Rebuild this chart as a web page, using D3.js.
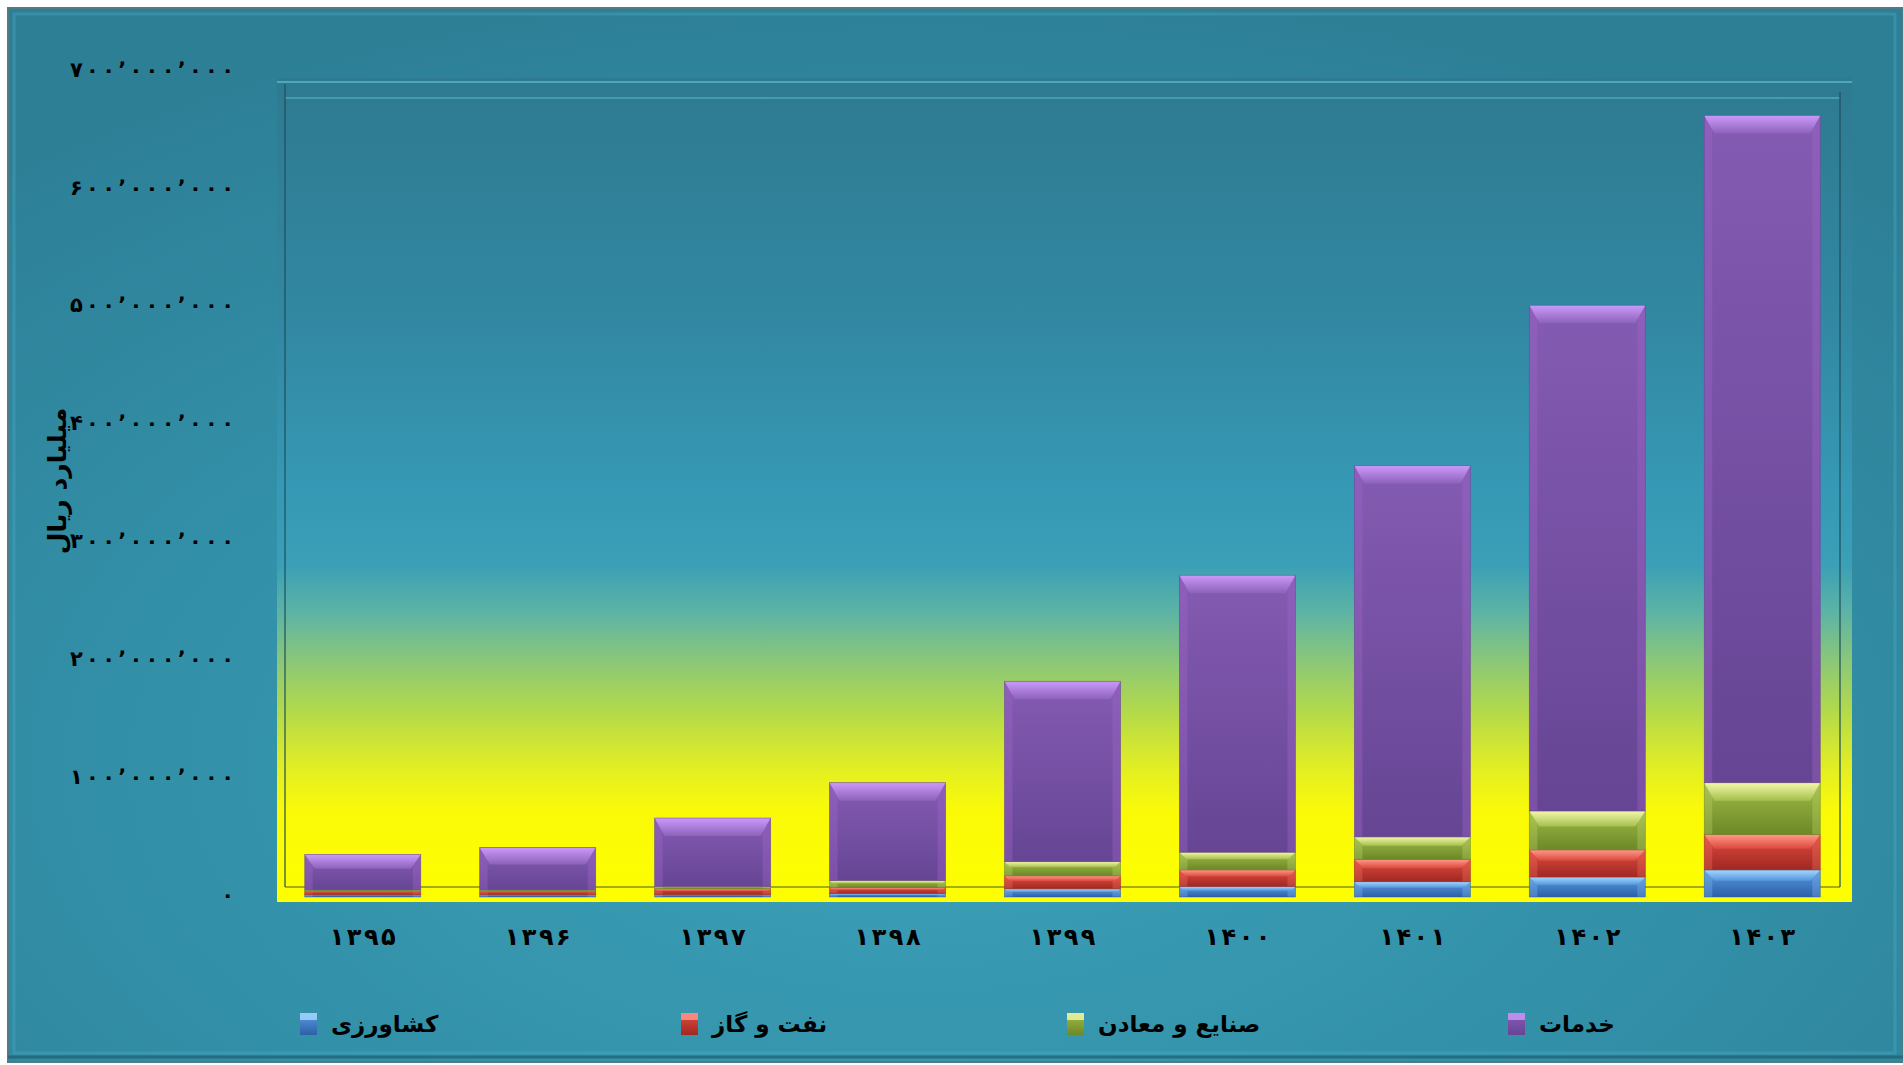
<!DOCTYPE html>
<html>
<head>
<meta charset="utf-8">
<script src="https://cdn.jsdelivr.net/npm/d3@7"></script>
<style>
  html, body { margin: 0; padding: 0; background: #fff; overflow: hidden; }
  svg { display: block; }
  text { font-family: "DejaVu Sans", sans-serif; font-weight: bold; fill: #000; }
</style>
</head>
<body>
<svg id="chart"></svg>
<script>
// years (solar hijri) and sector values, billion rial
const years = ['۱۳۹۵', '۱۳۹۶', '۱۳۹۷', '۱۳۹۸', '۱۳۹۹', '۱۴۰۰', '۱۴۰۱', '۱۴۰۲', '۱۴۰۳'];
const agriculture = [2000000, 2000000, 2000000, 3000000, 7000000, 9000000, 13000000, 17000000, 23000000];
const oilGas = [3000000, 3000000, 5000000, 5000000, 11000000, 14000000, 19000000, 23000000, 30000000];
const industryMining = [1000000, 1000000, 2000000, 6000000, 12000000, 15000000, 19000000, 33000000, 44000000];
const services = [30000000, 36000000, 58000000, 83000000, 153000000, 235000000, 315000000, 429000000, 566000000];
const yTicks = [0, 100000000, 200000000, 300000000, 400000000, 500000000, 600000000, 700000000];
const seriesNames = ['کشاورزی', 'نفت و گاز', 'صنایع و معادن', 'خدمات'];
const yTitle = 'میلیارد ریال';

const W = 1903, H = 1065;
const keys = ['agriculture', 'oil', 'industry', 'services'];
const palette = {
  agriculture: { top: '#5A9CE2', bottom: '#2C5FA6', capTop: '#A4D8FF', capBottom: '#5496DE', side: '#7DB6F0' },
  oil:         { top: '#E04C40', bottom: '#A02822', capTop: '#FF9A8A', capBottom: '#DC483C', side: '#F07060' },
  industry:    { top: '#A0BC46', bottom: '#6C8828', capTop: '#F4F8A8', capBottom: '#A4C04C', side: '#BCD468' },
  services:    { top: '#845BB2', bottom: '#664594', capTop: '#CC9AFA', capBottom: '#8C62BA', side: '#A468CC' }
};

const rows = years.map((yr, i) => ({
  year: yr,
  agriculture: agriculture[i],
  oil: oilGas[i],
  industry: industryMining[i],
  services: services[i]
}));

const persian = s => s.replace(/\d/g, d => '۰۱۲۳۴۵۶۷۸۹'[+d]);
const fmt = v => persian(d3.format(',')(v)).replace(/,/g, '٬');

const svg = d3.select('#chart').attr('width', W).attr('height', H);
const defs = svg.append('defs');

// backgrounds
const bg = defs.append('radialGradient').attr('id', 'bgGrad')
  .attr('cx', '48%').attr('cy', '72%').attr('r', '75%');
bg.append('stop').attr('offset', '0%').attr('stop-color', '#3CA2BA');
bg.append('stop').attr('offset', '55%').attr('stop-color', '#3290A8');
bg.append('stop').attr('offset', '100%').attr('stop-color', '#2D7F96');

const pg = defs.append('linearGradient').attr('id', 'plotGrad')
  .attr('x1', 0).attr('y1', 0).attr('x2', 0).attr('y2', 1);
[[0, '#2E7A90'], [0.3, '#3288A2'], [0.5, '#3699B5'], [0.59, '#3A9FB7'], [0.65, '#5EB4A4'],
 [0.71, '#8CC876'], [0.77, '#B4DA4A'], [0.84, '#E4EF22'], [0.89, '#FAFA08'], [1, '#FFFF00']]
  .forEach(([o, c]) => pg.append('stop').attr('offset', o).attr('stop-color', c));

keys.forEach(k => {
  const p = palette[k];
  const b = defs.append('linearGradient').attr('id', 'body-' + k)
    .attr('x1', 0).attr('y1', 0).attr('x2', 0).attr('y2', 1);
  b.append('stop').attr('offset', '0%').attr('stop-color', p.top);
  b.append('stop').attr('offset', '100%').attr('stop-color', p.bottom);
  const c = defs.append('linearGradient').attr('id', 'cap-' + k)
    .attr('x1', 0).attr('y1', 0).attr('x2', 0).attr('y2', 1);
  c.append('stop').attr('offset', '0%').attr('stop-color', p.capTop);
  c.append('stop').attr('offset', '100%').attr('stop-color', p.capBottom);
});

svg.append('rect').attr('width', W).attr('height', H).attr('fill', '#fff');
svg.append('rect').attr('x', 8).attr('y', 8).attr('width', W - 8).attr('height', H - 11)
  .attr('fill', 'url(#bgGrad)').attr('stroke', '#4F7A86').attr('stroke-width', 2);
svg.append('rect').attr('x', 14).attr('y', 14).attr('width', W - 22).attr('height', H - 26)
  .attr('fill', 'none').attr('stroke', '#4DB0C6').attr('stroke-width', 3).attr('opacity', 0.35);
svg.append('line').attr('x1', 8).attr('x2', W).attr('y1', H - 8).attr('y2', H - 8)
  .attr('stroke', '#1F5F70').attr('stroke-width', 3).attr('opacity', 0.7);

// plot area
const plot = { left: 277, right: 1852, top: 78, bottom: 902 };
const wall = { left: 285, right: 1840, top: 84, floor: 887 };
svg.append('rect').attr('x', plot.left).attr('y', plot.top)
  .attr('width', plot.right - plot.left).attr('height', plot.bottom - plot.top)
  .attr('fill', 'url(#plotGrad)');
svg.append('line').attr('x1', plot.left).attr('x2', plot.right).attr('y1', 82).attr('y2', 82)
  .attr('stroke', '#5DBACE').attr('stroke-width', 2).attr('opacity', 0.7);
svg.append('line').attr('x1', wall.left).attr('x2', wall.right).attr('y1', 98).attr('y2', 98)
  .attr('stroke', '#55B2C8').attr('stroke-width', 2).attr('opacity', 0.6);
svg.append('line').attr('x1', wall.left).attr('x2', wall.left).attr('y1', wall.top).attr('y2', wall.floor)
  .attr('stroke', '#1E4F5C').attr('stroke-width', 2).attr('opacity', 0.6);
svg.append('line').attr('x1', wall.right).attr('x2', wall.right).attr('y1', 92).attr('y2', wall.floor)
  .attr('stroke', '#1E4F5C').attr('stroke-width', 2).attr('opacity', 0.6);
svg.append('line').attr('x1', wall.left).attr('x2', wall.right).attr('y1', wall.floor).attr('y2', wall.floor)
  .attr('stroke', '#3A4A20').attr('stroke-width', 1.5).attr('opacity', 0.6);

// scales
const x = d3.scaleBand().domain(years).range([275, 1850]).paddingInner(0.337).paddingOuter(0.17);
const y = d3.scaleLinear().domain([0, 700000000]).range([897, 72]);

// y axis
const yAxis = svg.append('g').attr('transform', 'translate(234,0)')
  .call(d3.axisLeft(y).tickValues(yTicks).tickSize(0).tickPadding(0).tickFormat(fmt));
yAxis.select('.domain').remove();
yAxis.selectAll('text')
  .style('font-family', '"DejaVu Sans", sans-serif').style('font-weight', 'bold')
  .style('font-size', '21px').attr('fill', '#000').attr('dy', '0.2em')
  .each(function (v) {
    if (v > 0) d3.select(this).attr('textLength', 164).attr('lengthAdjust', 'spacing');
  });

svg.append('text').attr('transform', 'translate(57,481) rotate(-90)')
  .attr('text-anchor', 'middle').attr('dominant-baseline', 'central')
  .style('font-size', '25px').text(yTitle);

// x axis
const xAxis = svg.append('g').attr('transform', 'translate(0,928)')
  .call(d3.axisBottom(x).tickSize(0).tickPadding(0));
xAxis.select('.domain').remove();
xAxis.selectAll('text')
  .style('font-family', '"DejaVu Sans", sans-serif').style('font-weight', 'bold')
  .style('font-size', '24px').attr('fill', '#000')
  .attr('textLength', 66).attr('lengthAdjust', 'spacing');

// bars
const stacked = d3.stack().keys(keys)(rows);
const layers = svg.append('g').selectAll('g').data(stacked).join('g');

layers.each(function (s) {
  const k = s.key, p = palette[k];
  const g = d3.select(this);
  s.forEach(d => {
    const x0 = x(d.data.year), w = x.bandwidth();
    const y0 = y(d[1]), h = y(d[0]) - y(d[1]);
    if (h <= 0) return;
    g.append('rect').attr('x', x0).attr('y', y0).attr('width', w).attr('height', h)
      .attr('fill', 'url(#body-' + k + ')');
    const side = Math.min(8, w * 0.08);
    g.append('rect').attr('x', x0).attr('y', y0).attr('width', side).attr('height', h)
      .attr('fill', p.side).attr('opacity', 0.35);
    g.append('rect').attr('x', x0 + w - side).attr('y', y0).attr('width', side).attr('height', h)
      .attr('fill', p.side).attr('opacity', 0.35);
    if (h >= 3) {
      const ch = Math.min(18, h * 0.4), cw = Math.min(ch, 10);
      g.append('polygon')
        .attr('points', [[x0, y0], [x0 + w, y0], [x0 + w - cw, y0 + ch], [x0 + cw, y0 + ch]].join(' '))
        .attr('fill', 'url(#cap-' + k + ')');
    }
    g.append('rect').attr('x', x0).attr('y', y0).attr('width', w).attr('height', h)
      .attr('fill', 'none').attr('stroke', p.bottom).attr('stroke-width', 0.8).attr('opacity', 0.6);
  });
});

// legend
const legendX = [300, 681, 1067, 1508];
const legend = svg.append('g').selectAll('g').data(keys).join('g')
  .attr('transform', (k, i) => `translate(${legendX[i]},1013)`);
legend.append('rect').attr('width', 17).attr('height', 22)
  .attr('fill', k => 'url(#body-' + k + ')');
legend.append('rect').attr('width', 17).attr('height', 7)
  .attr('fill', k => palette[k].capTop).attr('opacity', 0.8);
legend.append('text').attr('x', 31).attr('y', 11).attr('dominant-baseline', 'central')
  .style('font-size', '23px').text((k, i) => seriesNames[i]);
</script>
</body>
</html>
